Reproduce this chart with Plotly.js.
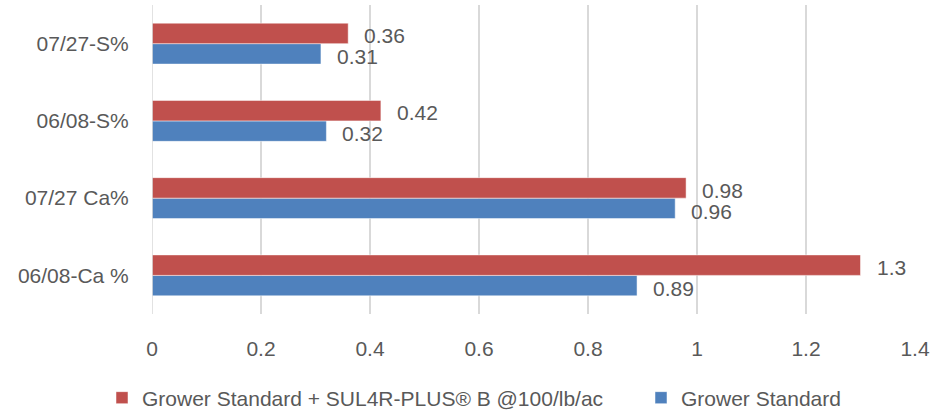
<!DOCTYPE html>
<html>
<head>
<meta charset="utf-8">
<script src="https://cdn.plot.ly/plotly-3.0.1.min.js"></script>
<style>html,body{margin:0;padding:0;background:#fff;}#chart{width:935px;height:411px;}</style>
</head>
<body>
<div id="chart"></div>
<script>
var categories = ["06/08-Ca %", "07/27 Ca%", "06/08-S%", "07/27-S%"];
var growerStandard = [0.89, 0.96, 0.32, 0.31];
var sul4rPlus = [1.3, 0.98, 0.42, 0.36];
var seriesNames = ["Grower Standard", "Grower Standard + SUL4R-PLUS\u00ae B @100/lb/ac"];
var xTicks = [0, 0.2, 0.4, 0.6, 0.8, 1, 1.2, 1.4];
var xTickLabels = ["0", "0.2", "0.4", "0.6", "0.8", "1", "1.2", "1.4"];

var FONT = "Liberation Sans, Arial, sans-serif";
var GREY = "#595959";
var FS = 21;

var traces = [
  {type: "bar", orientation: "h", name: seriesNames[0], y: categories, x: growerStandard,
   marker: {color: "#4F81BD", line: {color: "#ffffff", width: 0.5}}, hoverinfo: "none",
   legend: "legend2"},
  {type: "bar", orientation: "h", name: seriesNames[1], y: categories, x: sul4rPlus,
   marker: {color: "#C0504D", line: {color: "#ffffff", width: 0.5}}, hoverinfo: "none",
   legend: "legend"}
];

var annotations = [];
categories.forEach(function(c, i){
  annotations.push({x: sul4rPlus[i], y: c, xref: "x", yref: "y", text: String(sul4rPlus[i]),
    showarrow: false, xanchor: "left", yanchor: "middle", xshift: 14, yshift: 8,
    font: {family: FONT, size: FS, color: GREY}});
  annotations.push({x: growerStandard[i], y: c, xref: "x", yref: "y", text: String(growerStandard[i]),
    showarrow: false, xanchor: "left", yanchor: "middle", xshift: 14, yshift: -13,
    font: {family: FONT, size: FS, color: GREY}});
});

var legendCommon = {orientation: "h", xref: "container", yref: "container", xanchor: "left",
  y: 1 - 398 / 411, yanchor: "middle", bgcolor: "rgba(0,0,0,0)",
  font: {family: FONT, size: FS, color: GREY}, itemwidth: 30};

var layout = {
  width: 935, height: 411,
  margin: {l: 152, r: 20, t: 5, b: 97},
  paper_bgcolor: "#ffffff", plot_bgcolor: "#ffffff",
  barmode: "group", bargap: 0.47, bargroupgap: 0,
  font: {family: FONT, size: FS, color: GREY},
  xaxis: {range: [0, 1.4], tickvals: xTicks, ticktext: xTickLabels,
    showgrid: true, gridcolor: "#d9d9d9", gridwidth: 1.5, zeroline: false,
    showline: false, ticks: "outside", ticklen: 16, tickcolor: "rgba(0,0,0,0)",
    tickfont: {family: FONT, size: FS, color: GREY}, fixedrange: true},
  yaxis: {type: "category", categoryorder: "array", categoryarray: categories,
    showgrid: false, zeroline: false, showline: false,
    ticks: "outside", ticklen: 18, tickcolor: "rgba(0,0,0,0)",
    tickfont: {family: FONT, size: FS, color: GREY}, fixedrange: true},
  shapes: [{type: "line", xref: "x", yref: "paper", x0: 0, x1: 0, y0: 0, y1: 1,
    line: {color: "#d9d9d9", width: 1.5}}],
  legend: Object.assign({}, legendCommon, {x: (144 - 42) / 935}),
  legend2: Object.assign({}, legendCommon, {x: (683 - 42) / 935}),
  annotations: annotations,
  showlegend: true
};

Plotly.newPlot("chart", traces, layout, {displayModeBar: false, staticPlot: true});
</script>
</body>
</html>
